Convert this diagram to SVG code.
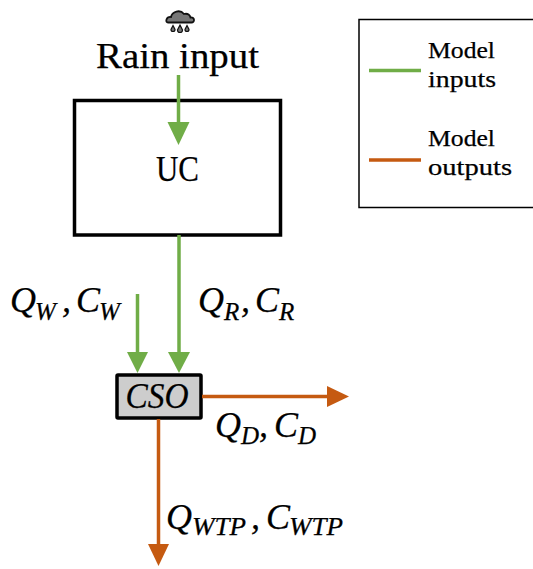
<svg xmlns="http://www.w3.org/2000/svg" width="533" height="569" viewBox="0 0 533 569">
<style>
text{font-family:"Liberation Serif","DejaVu Serif",serif;fill:#000;stroke:#000;stroke-width:.25}
.m{font-style:italic;font-size:36px}
.s{font-style:italic;font-size:25px}
.l{font-size:24px}
.g{stroke:#70ad47;stroke-width:3.500;fill:none}
.o{stroke:#c55a11;stroke-width:3.500;fill:none}
.gh{fill:#70ad47}
.oh{fill:#c55a11}
</style>
<rect width="533" height="569" fill="#fff"/>
<g id="rain-icon">
<path d="M168 22.500C165 22.500 166 16.500 171 17C172 11.500 180 9 184 14C188 13 190 15 190.500 17.500C195 17 195 22.500 191.500 22.500Z" fill="#777" stroke="#111" stroke-width="1.800"/>
<path d="M173 25.500l2 4a2 2 0 1 1-4 0Z M180 25l2.500 5a2.500 2.500 0 1 1-5 0Z M187 25.500l2 4a2 2 0 1 1-4 0Z" fill="#777" stroke="#111" stroke-width="1.200"/>
</g>
<g id="rain-label"><text x="177.500" y="68" text-anchor="middle" font-size="35" textLength="163" lengthAdjust="spacingAndGlyphs">Rain input</text></g>
<g id="uc">
<rect x="74.500" y="100.500" width="206" height="134.500" fill="#fff" stroke="#000" stroke-width="3.500"/>
<text x="177.500" y="181" text-anchor="middle" font-size="36" textLength="43" lengthAdjust="spacingAndGlyphs">UC</text>
</g>
<g id="cso">
<rect x="117" y="375" width="84" height="43" fill="#cdcdcd" stroke="#000" stroke-width="3.500" rx="1"/>
<text x="157" y="408" text-anchor="middle" font-style="italic" font-size="35" textLength="63" lengthAdjust="spacingAndGlyphs">CSO</text>
</g>
<g id="legend">
<rect x="359" y="19.500" width="180" height="188" fill="none" stroke="#000" stroke-width="1.500"/>
<line class="g" x1="369" y1="70.500" x2="421" y2="70.500"/>
<line class="o" x1="369" y1="160" x2="421" y2="160"/>
<text class="l" x="428" y="58" textLength="67" lengthAdjust="spacingAndGlyphs">Model</text>
<text class="l" x="428" y="87" textLength="68" lengthAdjust="spacingAndGlyphs">inputs</text>
<text class="l" x="428" y="146" textLength="67" lengthAdjust="spacingAndGlyphs">Model</text>
<text class="l" x="428" y="175" textLength="84" lengthAdjust="spacingAndGlyphs">outputs</text>
</g>
<g id="connectors">
<line class="g" x1="178.500" y1="75" x2="178.500" y2="124"/>
<polygon class="gh" points="167.500,122 189.500,122 178.500,145"/>
<line class="g" x1="179" y1="235" x2="179" y2="354"/>
<polygon class="gh" points="168,352 190,352 179,373"/>
<line class="g" x1="137.500" y1="294" x2="137.500" y2="354"/>
<polygon class="gh" points="127,352 148,352 137.500,373"/>
<line class="o" x1="202" y1="396.500" x2="330" y2="396.500"/>
<polygon class="oh" points="327,386 327,407 349,396.500"/>
<line class="o" x1="158.500" y1="419" x2="158.500" y2="546"/>
<polygon class="oh" points="148,544 169,544 158.500,566"/>
</g>
<g id="labels">
<text class="m" x="10" y="312">Q</text><text class="s" x="35" y="320">W</text><text class="m" x="62" y="312">,</text><text class="m" x="76" y="312">C</text><text class="s" x="99" y="320">W</text>
<text class="m" x="198" y="312">Q</text><text class="s" x="224" y="320">R</text><text class="m" x="241" y="312">,</text><text class="m" x="255" y="312">C</text><text class="s" x="279" y="320">R</text>
<text class="m" x="215" y="437">Q</text><text class="s" x="241" y="444">D</text><text class="m" x="259" y="437">,</text><text class="m" x="274" y="437">C</text><text class="s" x="298" y="444">D</text>
<text class="m" x="166" y="529">Q</text><text class="s" x="192" y="535" textLength="54" lengthAdjust="spacingAndGlyphs">WTP</text><text class="m" x="251" y="529">,</text><text class="m" x="266" y="529">C</text><text class="s" x="289" y="535" textLength="54" lengthAdjust="spacingAndGlyphs">WTP</text>
</g>
</svg>
